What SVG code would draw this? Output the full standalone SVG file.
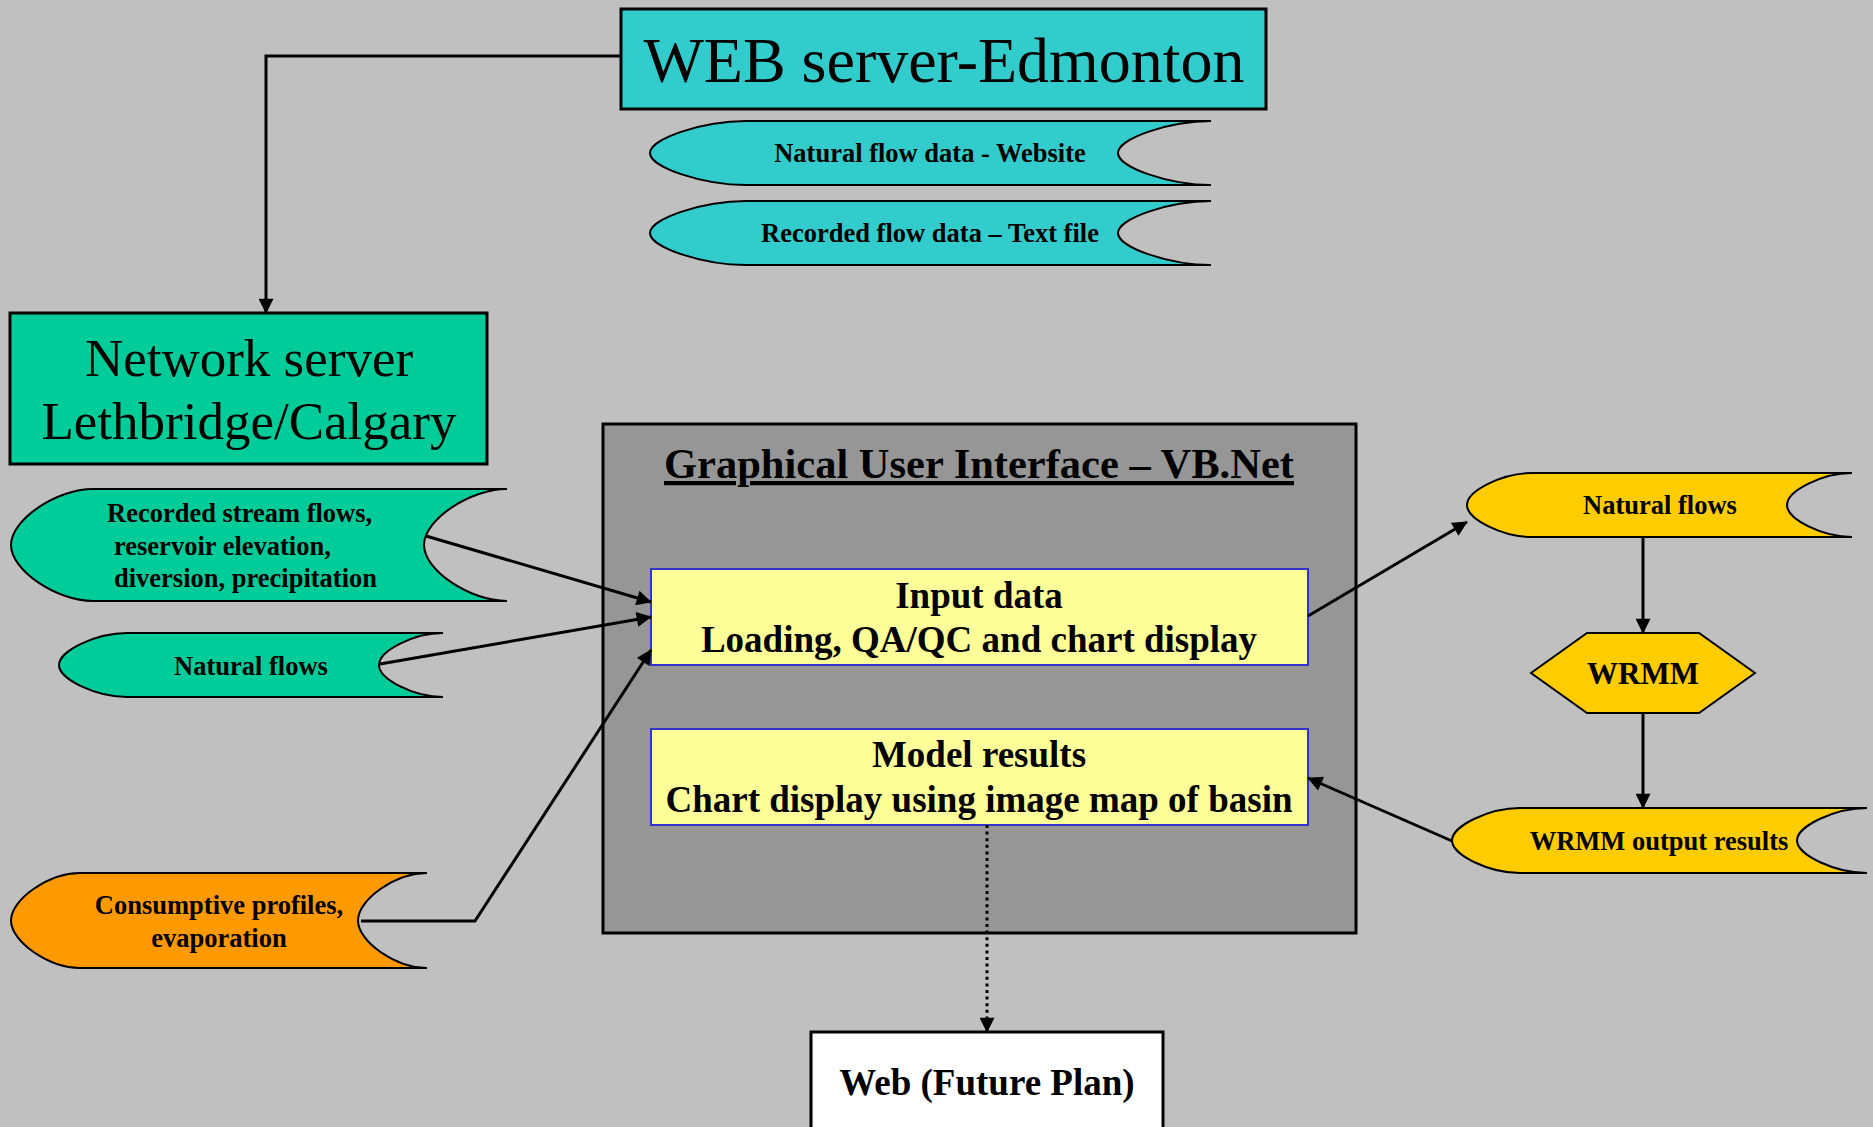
<svg xmlns="http://www.w3.org/2000/svg" width="1873" height="1127" viewBox="0 0 1873 1127">
  <style>
    .t { font-family: "Liberation Serif", "Times New Roman", serif; fill: #000; }
    .b { font-weight: bold; }
    .c { text-anchor: middle; }
    .big { font-size: 64px; }
    .srv { font-size: 53px; }
    .sm { font-size: 26.5px; }
    .md { font-size: 37px; }
    .doc { stroke: #000; stroke-width: 2; }
    .box { stroke: #000; stroke-width: 3; }
    .inner { fill: #FFFF99; stroke: #3333CC; stroke-width: 2; }
    .cn { fill: none; stroke: #000; stroke-width: 3; marker-end: url(#arr); }
    .teal { fill: #33CCCC; }
    .green { fill: #00CC99; }
    .orange { fill: #FF9900; }
    .gold { fill: #FFCC00; }
  </style>
  <defs>
    <marker id="arr" viewBox="0 0 10 10" refX="9.5" refY="5" markerWidth="16" markerHeight="15" markerUnits="userSpaceOnUse" orient="auto">
      <path d="M0,0 L10,5 L0,10 Z" fill="#000"/>
    </marker>
  </defs>

  <rect width="1873" height="1127" fill="#C0C0C0"/>

  <!-- GUI container -->
  <g id="gui">
    <rect x="603" y="424" width="753" height="509" fill="#969696" class="box" stroke-width="3.5"/>
    <text class="t b c" x="979" y="478" font-size="42.5" text-decoration="underline">Graphical User Interface – VB.Net</text>
  </g>

  <g id="web-server">
    <rect x="621" y="9" width="645" height="100" class="box teal"/>
    <text class="t c big" x="944" y="82">WEB server-Edmonton</text>
  </g>

  <g id="natural-flow-website">
    <path class="doc teal" d="M746,121 H1211 C1169,121 1118,138.6 1118,153 C1118,167.4 1169,185 1211,185 H746 C702.8,185 650,167.4 650,153 C650,138.6 702.8,121 746,121 Z"/>
    <text class="t b c sm" x="930" y="162">Natural flow data - Website</text>
  </g>

  <g id="recorded-flow-text">
    <path class="doc teal" d="M746,201 H1211 C1169,201 1118,218.6 1118,233 C1118,247.4 1169,265 1211,265 H746 C702.8,265 650,247.4 650,233 C650,218.6 702.8,201 746,201 Z"/>
    <text class="t b c sm" x="930" y="242">Recorded flow data – Text file</text>
  </g>

  <g id="network-server">
    <rect x="10" y="313" width="477" height="151" class="box green"/>
    <text class="t c srv" x="249" y="376">Network server</text>
    <text class="t c srv" x="249" y="439">Lethbridge/Calgary</text>
  </g>

  <g id="recorded-stream">
    <path class="doc green" d="M93,489 H507 C469.6,489 424,519.8 424,545 C424,570.2 469.6,601 507,601 H93 C56.1,601 11,570.2 11,545 C11,519.8 56.1,489 93,489 Z"/>
    <text class="t b sm" x="107" y="522">Recorded stream flows,</text>
    <text class="t b sm" x="114" y="555">reservoir elevation,</text>
    <text class="t b sm" x="114" y="587">diversion, precipitation</text>
  </g>

  <g id="natural-flows-left">
    <path class="doc green" d="M127,633 H443 C414.2,633 379,650.6 379,665 C379,679.4 414.2,697 443,697 H127 C96.4,697 59,679.4 59,665 C59,650.6 96.4,633 127,633 Z"/>
    <text class="t b c sm" x="251" y="675">Natural flows</text>
  </g>

  <g id="consumptive">
    <path class="doc orange" d="M80,873 H427 C396,873 358,899.1 358,920.5 C358,941.9 396,968 427,968 H80 C49,968 11,941.9 11,920.5 C11,899.1 49,873 80,873 Z"/>
    <text class="t b c sm" x="219" y="914">Consumptive profiles,</text>
    <text class="t b c sm" x="219" y="947">evaporation</text>
  </g>

  <g id="input-data">
    <rect x="651" y="569" width="657" height="96" class="inner"/>
    <text class="t b c md" x="979" y="608">Input data</text>
    <text class="t b c md" x="979" y="652">Loading, QA/QC and chart display</text>
  </g>

  <g id="model-results">
    <rect x="651" y="729" width="657" height="96" class="inner"/>
    <text class="t b c md" x="979" y="767">Model results</text>
    <text class="t b c md" x="979" y="812">Chart display using image map of basin</text>
  </g>

  <g id="natural-flows-right">
    <path class="doc gold" d="M1532,473 H1852 C1822.8,473 1787,490.6 1787,505 C1787,519.4 1822.8,537 1852,537 H1532 C1502.8,537 1467,519.4 1467,505 C1467,490.6 1502.8,473 1532,473 Z"/>
    <text class="t b c sm" x="1660" y="514">Natural flows</text>
  </g>

  <g id="wrmm">
    <polygon class="doc gold" points="1531,673 1587,633 1699,633 1755,673 1699,713 1587,713"/>
    <text class="t b c" x="1643" y="684" font-size="31">WRMM</text>
  </g>

  <g id="wrmm-output">
    <path class="doc gold" d="M1520,808 H1867 C1835.5,808 1797,825.9 1797,840.5 C1797,855.1 1835.5,873 1867,873 H1520 C1489.4,873 1452,855.1 1452,840.5 C1452,825.9 1489.4,808 1520,808 Z"/>
    <text class="t b c sm" x="1659" y="850">WRMM output results</text>
  </g>

  <g id="web-future">
    <rect x="811" y="1032" width="352" height="110" fill="#FFFFFF" class="box"/>
    <text class="t b c md" x="987" y="1095">Web (Future Plan)</text>
  </g>

  <g id="connectors">
    <path class="cn" d="M621,56 H266 V313" stroke-width="2.2"/>
    <path class="cn" d="M426,536 L651,602"/>
    <path class="cn" d="M380,664 L651,617"/>
    <path class="cn" d="M361,921 H475 L651,650"/>
    <path class="cn" d="M1308,616 L1467,522"/>
    <path class="cn" d="M1643,537 V633"/>
    <path class="cn" d="M1643,713 V808"/>
    <path class="cn" d="M1452,841 L1308,778"/>
    <path class="cn" d="M987,825 V1032" stroke-dasharray="3,3.6"/>
  </g>
</svg>
